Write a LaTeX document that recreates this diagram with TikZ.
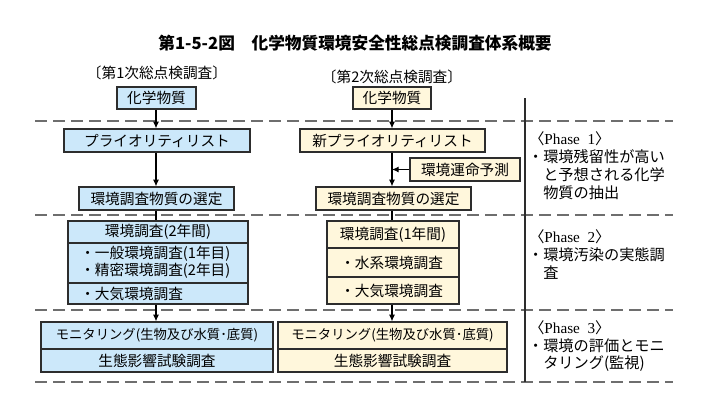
\documentclass[tikz,border=0pt]{standalone}
\usepackage{fontspec}
\setmainfont{Liberation Serif}
\newfontfamily\cjk{Noto Sans CJK JP}
\usetikzlibrary{arrows.meta,fit}
\definecolor{bluefill}{RGB}{204,232,250}
\definecolor{creamfill}{RGB}{255,247,220}
\definecolor{dashgray}{RGB}{110,110,110}
\definecolor{edgegray}{RGB}{45,45,45}
\begin{document}
\begin{tikzpicture}[x=0.75pt,y=-0.75pt,
  boxA/.style={draw=edgegray, line width=0.9pt, fill=bluefill, inner sep=0pt},
  boxB/.style={boxA, fill=creamfill},
  divider/.style={draw=edgegray, line width=0.9pt},
  txt/.style={inner sep=0pt, font=\cjk\fontsize{11}{13}\selectfont},
  smalltxt/.style={inner sep=0pt, font=\cjk\fontsize{10}{12}\selectfont},
  phase/.style={inner sep=0pt, anchor=west, font=\cjk\fontsize{11.4}{13}\selectfont},
  sep/.style={draw=dashgray, line width=1.1pt, dash pattern=on 9pt off 4.5pt},
  vline/.style={draw=edgegray, line width=0.8pt},
  link/.style={draw=black, line width=0.8pt},
  arr/.style={link, -{Latex[length=5pt,width=4.5pt]}}
]
\useasboundingbox (0,0) rectangle (711,412);
\fill[white] (0,0) rectangle (711,412);

% title and headers
\node[font=\cjk\bfseries\fontsize{12.5}{14}\selectfont] (title) at (355,43) {第1-5-2図　化学物質環境安全性総点検調査体系概要};
\node[txt] (hA) at (157,73) {〔第1次総点検調査〕};
\node[txt] (hB) at (392,77) {〔第2次総点検調査〕};

% column axes
\coordinate (colA) at (156,0);
\coordinate (colB) at (392,0);

% separators
\coordinate (d1l) at (35,121); \coordinate (d1r) at (673,121);
\coordinate (d2l) at (35,215); \coordinate (d2r) at (673,215);
\coordinate (d3l) at (35,310); \coordinate (d3r) at (673,310);
\coordinate (d4l) at (35,382); \coordinate (d4r) at (673,382);
\draw[sep] (d1l) -- (d1r);
\draw[sep] (d2l) -- (d2r);
\draw[sep] (d3l) -- (d3r);
\draw[sep] (d4l) -- (d4r);
\coordinate (vt) at (525,98); \coordinate (vb) at (525,382);
\draw[vline] (vt) -- (vb);

% column 1
\node[boxA, fit={(117,87) (196,109)}] (c1) {};
\node[txt] (c1t) at (c1) {化学物質};
\node[boxA, fit={(64,129) (250,152)}] (p1) {};
\node[txt] (p1t) at (p1) {プライオリティリスト};
\node[boxA, fit={(79,187) (234,210)}] (e1) {};
\node[txt] (e1t) at (e1) {環境調査物質の選定};
\node[boxA, fit={(68,221) (248,304)}] (s1) {};
\draw[divider] (s1.west |- 0,243) -- (s1.east |- 0,243);
\draw[divider] (s1.west |- 0,283) -- (s1.east |- 0,283);
\node[txt] (s1t) at (158,232) {環境調査(2年間)};
\node[txt, anchor=west] (s1a) at (80,254) {・一般環境調査(1年目)};
\node[txt, anchor=west] (s1b) at (80,271) {・精密環境調査(2年目)};
\node[txt, anchor=west] (s1c) at (80,294) {・大気環境調査};
\node[boxA, fit={(41,322) (273,372)}] (m1) {};
\draw[divider] (m1.west |- 0,349) -- (m1.east |- 0,349);
\node[smalltxt] (m1a) at (157,335.5) {モニタリング(生物及び水質･底質)};
\node[txt] (m1b) at (157,360.5) {生態影響試験調査};

% column 2
\node[boxB, fit={(353,87) (431,109)}] (c2) {};
\node[txt] (c2t) at (c2) {化学物質};
\node[boxB, fit={(300,129) (485,152)}] (p2) {};
\node[txt] (p2t) at (p2) {新プライオリティリスト};
\node[boxB, fit={(410,158) (520,181)}] (f2) {};
\node[txt] (f2t) at (f2) {環境運命予測};
\node[boxB, fit={(316,187) (471,210)}] (e2) {};
\node[txt] (e2t) at (e2) {環境調査物質の選定};
\node[boxB, fit={(327,221) (459,304)}] (s2) {};
\draw[divider] (s2.west |- 0,248) -- (s2.east |- 0,248);
\draw[divider] (s2.west |- 0,277) -- (s2.east |- 0,277);
\node[txt] (s2t) at (393,235) {環境調査(1年間)};
\node[txt, anchor=west] (s2a) at (340,262.5) {・水系環境調査};
\node[txt, anchor=west] (s2b) at (340,290.5) {・大気環境調査};
\node[boxB, fit={(278,322) (507,372)}] (m2) {};
\draw[divider] (m2.west |- 0,349) -- (m2.east |- 0,349);
\node[smalltxt] (m2a) at (392.5,335.5) {モニタリング(生物及び水質･底質)};
\node[txt] (m2b) at (392.5,360.5) {生態影響試験調査};

% connectors column 1
\draw[arr] (c1.south -| colA) -- (p1.north -| colA);
\draw[arr] (p1.south -| colA) -- (e1.north -| colA);
\draw[link] (e1.south -| colA) -- (s1.north -| colA);
\draw[arr] (s1.south -| colA) -- (m1.north -| colA);

% connectors column 2
\draw[arr] (c2.south -| colB) -- (p2.north -| colB);
\draw[arr] (p2.south -| colB) -- (e2.north -| colB);
\draw[arr] (f2.west) -- (f2.west -| colB);
\draw[link] (e2.south -| colB) -- (s2.north -| colB);
\draw[arr] (s2.south -| colB) -- (m2.north -| colB);

% phase notes
\node[phase] (ph1h) at (529,139) {〈{\rmfamily Phase\ \ 1}〉};
\node[phase] (ph1a) at (543,157) {\llap{・}環境残留性が高い};
\node[phase] (ph1b) at (543,175) {と予想される化学};
\node[phase] (ph1c) at (543,193) {物質の抽出};

\node[phase] (ph2h) at (529,237) {〈{\rmfamily Phase\ \ 2}〉};
\node[phase] (ph2a) at (543,255) {\llap{・}環境汚染の実態調};
\node[phase] (ph2b) at (543,273) {査};

\node[phase] (ph3h) at (529,328) {〈{\rmfamily Phase\ \ 3}〉};
\node[phase] (ph3a) at (543,346) {\llap{・}環境の評価とモニ};
\node[phase] (ph3b) at (543,364) {タリング(監視)};
\end{tikzpicture}
\end{document}
